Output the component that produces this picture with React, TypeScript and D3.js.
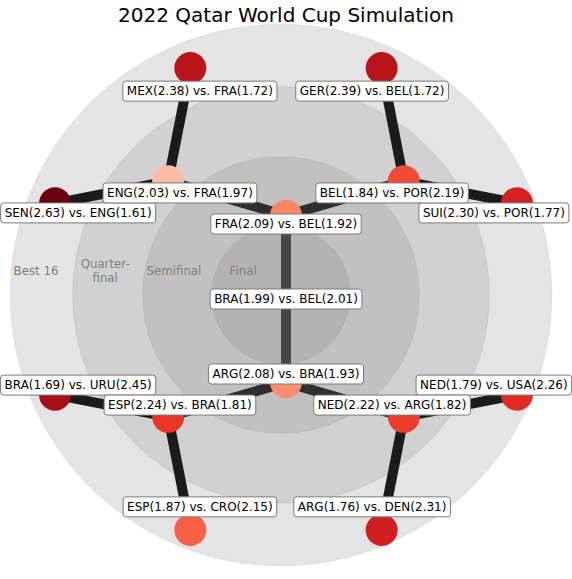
import React, { useMemo } from "react";
import * as d3 from "d3";

const W = 572;
const H = 579;
const title = "2022 Qatar World Cup Simulation";
const stageNames = ["Best 16", "Quarter-\nfinal", "Semifinal", "Final"];

// matches of each round, ordered clockwise from the upper-left slot
const best16Home = ["SEN", "MEX", "GER", "SUI", "NED", "ARG", "ESP", "BRA"];
const best16HomeScore = [2.63, 2.38, 2.39, 2.3, 1.79, 1.76, 1.87, 1.69];
const best16Away = ["ENG", "FRA", "BEL", "POR", "USA", "DEN", "CRO", "URU"];
const best16AwayScore = [1.61, 1.72, 1.72, 1.77, 2.26, 2.31, 2.15, 2.45];

const quarterHome = ["ENG", "BEL", "NED", "ESP"];
const quarterHomeScore = [2.03, 1.84, 2.22, 2.24];
const quarterAway = ["FRA", "POR", "ARG", "BRA"];
const quarterAwayScore = [1.97, 2.19, 1.82, 1.81];

const semiHome = ["FRA", "ARG"];
const semiHomeScore = [2.09, 2.08];
const semiAway = ["BEL", "BRA"];
const semiAwayScore = [1.92, 1.93];

const finalHome = ["BRA"];
const finalHomeScore = [1.99];
const finalAway = ["BEL"];
const finalAwayScore = [2.01];

// ring (background) radii in bracket units, and stage label offsets
const ringRadii = [3.25, 2.5, 1.66, 0.83];
const stageLabelRadii = [3.0, 2.17, 1.345, 0.515];

const FONT = "DejaVu Sans, sans-serif";
const LABEL_SIZE = 12;

function measure(text: string, size: number) {
  if (typeof document === "undefined") return text.length * size * 0.6;
  const c = document.createElement("canvas");
  const ctx = c.getContext("2d");
  if (!ctx) return text.length * size * 0.6;
  ctx.font = `${size}px "DejaVu Sans"`;
  return ctx.measureText(text).width;
}

type Match = { home: string; hs: number; away: string; as: number };

function zipRound(h: string[], hs: number[], a: string[], as: number[]): Match[] {
  return h.map((t, i) => ({ home: t, hs: hs[i], away: a[i], as: as[i] }));
}

export default function App() {
  const rounds = useMemo(
    () => [
      zipRound(best16Home, best16HomeScore, best16Away, best16AwayScore),
      zipRound(quarterHome, quarterHomeScore, quarterAway, quarterAwayScore),
      zipRound(semiHome, semiHomeScore, semiAway, semiAwayScore),
      zipRound(finalHome, finalHomeScore, finalAway, finalAwayScore),
    ],
    []
  );

  const cx = 286;
  const cy = 299;
  const ringCx = 281;
  const ringCy = 295;
  const rScale = d3.scaleLinear().domain([0, 3]).range([0, 250]);
  const levelRadius = [3, 2, 1, 0];

  const maxDiff = d3.max(rounds.flat(), (m) => Math.abs(m.hs - m.as)) as number;
  const color = d3
    .scaleSqrt()
    .domain([0, maxDiff])
    .range([0, 1])
    .clamp(true);

  const nodes = rounds.map((matches, k) => {
    const n = matches.length;
    return matches.map((m, i) => {
      const ang = ((180 - ((i + 0.5) * 360) / n) * Math.PI) / 180;
      const r = rScale(levelRadius[k]);
      const rl = rScale(levelRadius[k] * 0.9);
      const label = `${m.home}(${m.hs.toFixed(2)}) vs. ${m.away}(${m.as.toFixed(2)})`;
      return {
        ...m,
        k,
        i,
        x: cx + r * Math.cos(ang),
        y: cy - r * Math.sin(ang),
        lx: cx + rl * Math.cos(ang),
        ly: cy - rl * Math.sin(ang),
        label,
        tw: measure(label, LABEL_SIZE),
        fill: d3.interpolateReds(color(Math.abs(m.hs - m.as))),
      };
    });
  });

  const edgeColors = ["#1b1b1b", "#2f2f2f", "#474747"];
  const edges: { x1: number; y1: number; x2: number; y2: number; c: string }[] = [];
  for (let k = 0; k < nodes.length - 1; k++) {
    nodes[k].forEach((nd, i) => {
      const p = nodes[k + 1][Math.floor(i / 2)];
      edges.push({ x1: nd.x, y1: nd.y, x2: p.x, y2: p.y, c: edgeColors[k] });
    });
  }

  const ringFills = ["#e4e4e4", "#d1d1d1", "#c1c1c1", "#b3b3b3"];
  // the final sits at the centre, hidden under its label: no dot drawn
  const dotNodes = nodes.slice(0, 3).flat();

  return (
    <svg
      width={W}
      height={H}
      style={{ position: "absolute", left: 0, top: 0, background: "#fff" }}
      fontFamily={FONT}
    >
      {ringRadii.map((rr, j) => (
        <circle
          key={"ring" + j}
          cx={ringCx}
          cy={ringCy}
          r={rScale(rr)}
          fill={ringFills[j]}
          stroke="rgba(0,0,0,0.06)"
          strokeWidth={1}
        />
      ))}
      {stageNames.map((s, j) => {
        const lines = s.split("\n");
        const x = cx - rScale(stageLabelRadii[j]);
        const y0 = 271 - ((lines.length - 1) * 14) / 2;
        return (
          <text
            key={"st" + j}
            x={x}
            textAnchor="middle"
            fill="#808080"
            fontSize={11.8}
          >
            {lines.map((ln, li) => (
              <tspan key={li} x={x} y={y0 + li * 14} dominantBaseline="central">
                {ln}
              </tspan>
            ))}
          </text>
        );
      })}
      {edges.map((e, j) => (
        <line
          key={"e" + j}
          x1={e.x1}
          y1={e.y1}
          x2={e.x2}
          y2={e.y2}
          stroke={e.c}
          strokeWidth={10}
        />
      ))}
      {dotNodes.map((nd, j) => (
        <circle key={"n" + j} cx={nd.x} cy={nd.y} r={16} fill={nd.fill} />
      ))}
      {nodes.flat().map((nd, j) => (
        <g key={"l" + j} transform={`translate(${nd.lx},${nd.ly})`}>
          <rect
            x={-nd.tw / 2 - 4}
            y={-10}
            width={nd.tw + 8}
            height={20}
            rx={3}
            fill="#fff"
            stroke="#7a7a7a"
            strokeWidth={1}
          />
          <text
            textAnchor="middle"
            dominantBaseline="central"
            fontSize={LABEL_SIZE}
            fill="#000"
          >
            {nd.label}
          </text>
        </g>
      ))}
      <text x={286} y={22} textAnchor="middle" fontSize={20} fill="#000">
        {title}
      </text>
    </svg>
  );
}
